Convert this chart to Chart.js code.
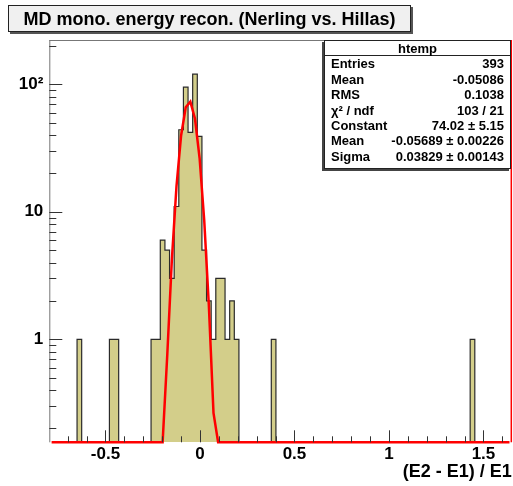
<!DOCTYPE html>
<html><head><meta charset="utf-8">
<script src="https://cdn.jsdelivr.net/npm/chart.js@4"></script>
<style>
html,body{margin:0;padding:0;background:#fff;}
#wrap{position:relative;width:513px;height:486px;font-family:"Liberation Sans",Arial,Helvetica,sans-serif;overflow:hidden;}
canvas{position:absolute;left:0;top:0;}
#title{position:absolute;left:8px;top:5px;width:401px;height:25px;border:1px solid #222;background:#f0f0f0;box-shadow:2px 2px 0 #555;font-weight:bold;font-size:18px;line-height:26px;text-align:center;white-space:nowrap;}
#stats{position:absolute;left:324px;top:40px;width:185px;height:127px;border:1px solid #222;background:#fff;box-shadow:-2px 2px 0 #444;font-weight:bold;font-size:13px;}
#stats .hdr{position:absolute;left:0;top:0;width:185px;height:14px;line-height:15px;text-align:center;border-bottom:1px solid #222;}
#stats .row{position:absolute;left:0;width:185px;height:16px;line-height:16px;}
#stats .lab{position:absolute;left:6px;}
#stats .val{position:absolute;right:6px;}
</style>
</head><body>
<div id="wrap">
<canvas id="c" width="513" height="486"></canvas>
<div id="title"></div>
<div id="stats"></div>
</div>
<script>
// ---- data ----
const chartTitle = "MD mono. energy recon. (Nerling vs. Hillas)";
const xAxisTitle = "(E2 - E1) / E1";
const binLow = -0.797;
const binHigh = 1.65;
const counts = [
  0,0,0,0,0,0,1,0,0,0,
  0,0,0,1,1,0,0,0,0,0,
  0,0,1,1,6,5,3,11,44,95,
  42,120,39,5,2,1,3,3,1,2,
  1,0,0,0,0,0,0,0,1,0,
  0,0,0,0,0,0,0,0,0,0,
  0,0,0,0,0,0,0,0,0,0,
  0,0,0,0,0,0,0,0,0,0,
  0,0,0,0,0,0,0,0,0,0,
  0,1,0,0,0,0,0,0,0,0
];
// Gaussian fit curve sampled at bin centres (bins fitFirstBin ...), other bins ~0
const fitFirstBin = 22;
const fitValues = [0.0004, 0.0069, 0.087, 0.746, 4.22, 15.87, 39.71, 66.02, 73.07, 53.69, 26.29, 8.53, 1.836, 0.265, 0.0252, 0.0016];
const yMin = 0.1556, yMax = 222.6;
const xMajorValues = [-0.5, 0, 0.5, 1, 1.5];
const xTickLabels = ["-0.5", "0", "0.5", "1", "1.5"];
const yMajorValues = [1, 10, 100];
const yTickLabels = ["1", "10", "10\u00B2"];
const statLabels = ["Entries", "Mean", "RMS", "\u03C7\u00B2 / ndf", "Constant", "Mean", "Sigma"];
const statValues = ["393", "-0.05086", "0.1038", "103 / 21", "74.02 \u00B1 5.15", "-0.05689 \u00B1 0.00226", "0.03829 \u00B1 0.00143"];
const statsName = "htemp";

// ---- text boxes ----
document.getElementById('title').textContent = chartTitle;
const st = document.getElementById('stats');
const hdr = document.createElement('div'); hdr.className = 'hdr'; hdr.textContent = statsName; st.appendChild(hdr);
statLabels.forEach((l, k) => {
  const r = document.createElement('div'); r.className = 'row';
  r.style.top = (64.3 + 15.4 * k - 41 - 8) + 'px';
  const a = document.createElement('span'); a.className = 'lab'; a.textContent = l;
  const b = document.createElement('span'); b.className = 'val'; b.textContent = statValues[k];
  r.appendChild(a); r.appendChild(b); st.appendChild(r);
});

// ---- build datasets ----
const nBins = counts.length;
const binWidth = (binHigh - binLow) / nBins;
const zeroFloor = 1e-3;
const histPts = counts.map((c, i) => ({x: binLow + i * binWidth, y: c > 0 ? c : zeroFloor}));
histPts.push({x: binHigh, y: counts[nBins - 1] > 0 ? counts[nBins - 1] : zeroFloor});
const fitPts = counts.map((_, i) => {
  const k = i - fitFirstBin;
  const v = (k >= 0 && k < fitValues.length) ? fitValues[k] : 0;
  return {x: binLow + (i + 0.5) * binWidth, y: Math.max(v, yMin)};
});

const FONT = '"Liberation Sans", Arial, Helvetica, sans-serif';

const framePlugin = {
  id: 'frame',
  afterDatasetsDraw(chart) {
    const {ctx, chartArea: a, scales} = chart;
    ctx.save();
    ctx.lineWidth = 1;
    ctx.strokeStyle = '#777';
    ctx.beginPath(); ctx.moveTo(a.left, a.top + 0.5); ctx.lineTo(a.right, a.top + 0.5); ctx.stroke();
    ctx.beginPath(); ctx.moveTo(a.left + 0.5, a.top); ctx.lineTo(a.left + 0.5, a.bottom); ctx.stroke();
    ctx.strokeStyle = 'red'; ctx.lineWidth = 1.5;
    ctx.beginPath(); ctx.moveTo(a.right - 0.5, a.top); ctx.lineTo(a.right - 0.5, a.bottom); ctx.stroke();
    // tick marks inside the frame
    ctx.strokeStyle = '#333'; ctx.lineWidth = 1;
    const xs = scales.x;
    xs.ticks.forEach(t => {
      const px = Math.round(xs.getPixelForValue(t.value)) + 0.5;
      const major = Math.abs(t.value * 2 - Math.round(t.value * 2)) < 1e-6;
      const len = major ? 12 : 6;
      ctx.beginPath(); ctx.moveTo(px, a.bottom); ctx.lineTo(px, a.bottom - len); ctx.stroke();
    });
    const ys = scales.y;
    ys.ticks.forEach(t => {
      const py = Math.round(ys.getPixelForValue(t.value)) + 0.5;
      const major = yMajorValues.some(m => Math.abs(m - t.value) < 1e-9);
      const len = major ? 13 : 7;
      ctx.beginPath(); ctx.moveTo(a.left, py); ctx.lineTo(a.left + len, py); ctx.stroke();
    });
    ctx.restore();
  }
};

new Chart(document.getElementById('c'), {
  type: 'line',
  data: {
    datasets: [
      {
        label: 'fit', data: fitPts, order: 0,
        borderColor: '#ff0000', borderWidth: 2.5, pointRadius: 0, fill: false,
        tension: 0, clip: false
      },
      {
        label: 'htemp', data: histPts, order: 1,
        stepped: 'before', borderColor: '#2a2a2a', borderWidth: 1.2,
        backgroundColor: 'rgb(211,206,138)', fill: 'start',
        pointRadius: 0, tension: 0, clip: 0
      }
    ]
  },
  options: {
    responsive: false, animation: false, devicePixelRatio: 1,
    layout: {padding: {top: 40, right: 1.2, left: 0, bottom: 0}},
    plugins: {legend: {display: false}, tooltip: {enabled: false}, title: {display: false}},
    scales: {
      x: {
        type: 'linear', min: binLow, max: binHigh,
        grid: {display: false, drawTicks: false}, border: {display: false},
        afterBuildTicks: s => {
          const t = [];
          for (let k = -7; k <= 16; k++) t.push({value: k / 10});
          s.ticks = t;
        },
        ticks: {
          autoSkip: false, maxRotation: 0, padding: 2, color: '#000',
          font: {family: FONT, size: 17, weight: 'bold'},
          callback: v => {
            const i = xMajorValues.findIndex(m => Math.abs(m - v) < 1e-9);
            return i >= 0 ? xTickLabels[i] : '';
          }
        },
        title: {
          display: true, text: xAxisTitle, align: 'end', color: '#000',
          font: {family: FONT, size: 18, weight: 'bold'}, padding: {top: 0, bottom: 3}
        },
        afterFit: s => { s.height = 43.7; }
      },
      y: {
        type: 'logarithmic', min: yMin, max: yMax,
        grid: {display: false, drawTicks: false}, border: {display: false},
        afterBuildTicks: s => {
          const t = [];
          for (let d = -1; d <= 2; d++) for (let m = 1; m <= 9; m++) {
            const v = m * Math.pow(10, d);
            if (v >= yMin && v <= yMax) t.push({value: v});
          }
          s.ticks = t;
        },
        ticks: {
          autoSkip: false, padding: 6, color: '#000',
          font: {family: FONT, size: 17, weight: 'bold'},
          callback: v => {
            const i = yMajorValues.findIndex(m => Math.abs(m - v) < 1e-9);
            return i >= 0 ? yTickLabels[i] : '';
          }
        },
        afterFit: s => { s.width = 49.3; }
      }
    }
  },
  plugins: [framePlugin]
});
</script>
</body></html>
